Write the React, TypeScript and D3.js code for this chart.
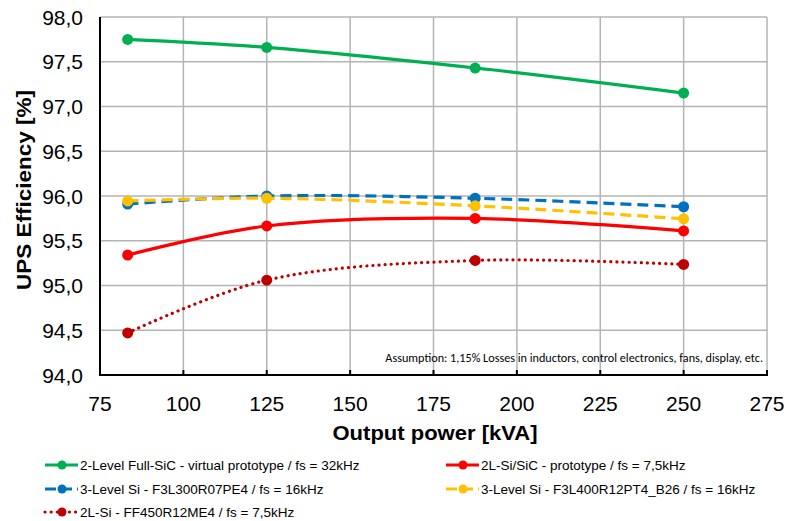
import React from "react";
import * as d3 from "d3";

const power = [83.3, 125, 187.5, 250];
const fullSiC = [97.75, 97.66, 97.43, 97.15];
const siSiC = [95.34, 95.665, 95.75, 95.61];
const f3l300 = [95.91, 96.0, 95.975, 95.88];
const f3l400 = [95.945, 95.975, 95.89, 95.745];
const ff450 = [94.47, 95.06, 95.28, 95.235];

const xTicks = [75, 100, 125, 150, 175, 200, 225, 250, 275];
const yTicks = [94.0, 94.5, 95.0, 95.5, 96.0, 96.5, 97.0, 97.5, 98.0];

const seriesNames = [
  "2-Level Full-SiC - virtual prototype / fs = 32kHz",
  "2L-Si/SiC - prototype / fs = 7,5kHz",
  "3-Level Si - F3L300R07PE4 / fs = 16kHz",
  "3-Level Si - F3L400R12PT4_B26 / fs = 16kHz",
  "2L-Si - FF450R12ME4 / fs = 7,5kHz",
];

const series = [
  { name: seriesNames[0], values: fullSiC, color: "#00B050", dash: "", cap: "butt" },
  { name: seriesNames[1], values: siSiC, color: "#FF0000", dash: "", cap: "butt" },
  { name: seriesNames[2], values: f3l300, color: "#0070C0", dash: "11,6", cap: "butt" },
  { name: seriesNames[3], values: f3l400, color: "#FFC000", dash: "11,6", cap: "butt" },
  { name: seriesNames[4], values: ff450, color: "#C00000", dash: "0.1,6", cap: "round" },
];

const W = 790, H = 521;
const L = 100, R = 767, T = 17, B = 375;

export default function App() {
  const x = d3.scaleLinear().domain([75, 275]).range([L, R]);
  const y = d3.scaleLinear().domain([94, 98]).range([B, T]);
  const line = d3
    .line<number>()
    .x((_, i) => x(power[i]))
    .y((d) => y(d))
    .curve(d3.curveCatmullRom.alpha(0.5));

  const fmt = (v: number) => v.toFixed(1).replace(".", ",");
  const font = "'Liberation Sans', Arial, sans-serif";
  const narrow = "'Liberation Sans Narrow', 'Arial Narrow', 'Liberation Sans', sans-serif";

  const legendPos = [
    { lx: 45, ly: 465 },
    { lx: 446, ly: 465 },
    { lx: 45, ly: 489 },
    { lx: 446, ly: 489 },
    { lx: 45, ly: 512 },
  ];

  return (
    <svg width={W} height={H} style={{ position: "absolute", left: 0, top: 0, background: "#fff" }}>
      <rect width={W} height={H} fill="#fff" />
      {xTicks.slice(1).map((t) => (
        <line key={"vx" + t} x1={x(t)} x2={x(t)} y1={T} y2={B} stroke="#b4b4b4" strokeWidth={1.5} />
      ))}
      {yTicks.slice(1).map((t) => (
        <line key={"hy" + t} x1={L} x2={R} y1={y(t)} y2={y(t)} stroke="#b4b4b4" strokeWidth={1.5} />
      ))}
      <line x1={L} x2={L} y1={T} y2={B + 1} stroke="#000" strokeWidth={2} />
      <line x1={L - 1} x2={R + 1} y1={B} y2={B} stroke="#000" strokeWidth={2} />
      {xTicks.map((t) => (
        <line key={"tk" + t} x1={x(t)} x2={x(t)} y1={B} y2={B - 5} stroke="#000" strokeWidth={2} />
      ))}
      {yTicks.map((t) => (
        <text key={"yl" + t} x={83} y={y(t)} dy="0.36em" textAnchor="end" fontFamily={font} fontSize={21} fill="#000">
          {fmt(t)}
        </text>
      ))}
      {xTicks.map((t) => (
        <text key={"xl" + t} x={x(t)} y={411} textAnchor="middle" fontFamily={font} fontSize={21} fill="#000">
          {t}
        </text>
      ))}
      <text x={435} y={440} textAnchor="middle" fontFamily={font} fontSize={20} fontWeight="bold" fill="#000"
        textLength={205} lengthAdjust="spacingAndGlyphs">
        Output power [kVA]
      </text>
      <text
        transform={`translate(31,${190}) rotate(-90)`}
        textAnchor="middle"
        fontFamily={font}
        fontSize={20}
        fontWeight="bold"
        fill="#000"
        textLength={200}
        lengthAdjust="spacingAndGlyphs"
      >
        UPS Efficiency [%]
      </text>
      <text x={763} y={362} textAnchor="end" fontFamily="Carlito, Calibri, 'Liberation Sans', sans-serif" fontSize={12.2} fill="#000">
        Assumption: 1,15% Losses in inductors, control electronics, fans, display, etc.
      </text>
      {series.map((s) => (
        <g key={s.name}>
          <path
            d={line(s.values) || ""}
            fill="none"
            stroke={s.color}
            strokeWidth={3.2}
            strokeDasharray={s.dash || undefined}
            strokeLinecap={s.cap as any}
          />
          {s.values.map((v, i) => (
            <circle key={i} cx={x(power[i])} cy={y(v)} r={5.5} fill={s.color} />
          ))}
        </g>
      ))}
      {series.map((s, i) => {
        const p = legendPos[i];
        return (
          <g key={"lg" + i}>
            <line
              x1={p.lx}
              x2={p.lx + 33}
              y1={p.ly}
              y2={p.ly}
              stroke={s.color}
              strokeWidth={3.2}
              strokeDasharray={s.dash ? (s.cap === "round" ? "0.1,6" : "11,5") : undefined}
              strokeLinecap={s.cap as any}
            />
            <circle cx={p.lx + 17} cy={p.ly} r={4.5} fill={s.color} />
            <text x={p.lx + 35} y={p.ly} dy="0.35em" fontFamily={narrow} fontSize={13.5} fill="#000">
              {s.name}
            </text>
          </g>
        );
      })}
    </svg>
  );
}
